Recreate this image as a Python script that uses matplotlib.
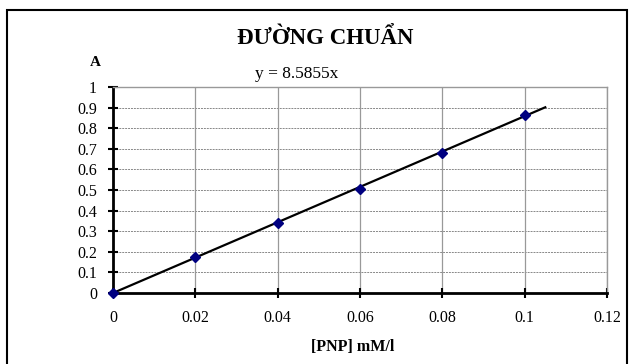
import matplotlib
matplotlib.use("Agg")
import matplotlib.pyplot as plt
import matplotlib.patches as mpatches
import numpy as np

#%% data
conc = [0, 0.02, 0.04, 0.06, 0.08, 0.1]
absorb = [0, 0.175, 0.34, 0.505, 0.68, 0.865]
slope = 8.5855
fit_x = [0, 0.105]
x_ticks = [0, 0.02, 0.04, 0.06, 0.08, 0.1, 0.12]
x_labels = ['0', '0.02', '0.04', '0.06', '0.08', '0.1', '0.12']
y_ticks = [0, 0.1, 0.2, 0.3, 0.4, 0.5, 0.6, 0.7, 0.8, 0.9, 1]
y_labels = ['0', '0.1', '0.2', '0.3', '0.4', '0.5', '0.6', '0.7', '0.8', '0.9', '1']

plt.rcParams['font.family'] = ['Liberation Serif', 'DejaVu Serif']

fig = plt.figure(figsize=(6.3, 3.64), dpi=100)
ax = fig.add_axes([113/630, 1-293/364, (607-113)/630, (293-87)/364])

# outer frame (bottom edge runs off the picture)
fig.patches.append(mpatches.Rectangle((7/630, -0.05), (627-7)/630, 1.05 - 10/364,
                                      transform=fig.transFigure, fill=False,
                                      edgecolor='black', linewidth=1.5))

ax.set_xlim(0, 0.12)
ax.set_ylim(0, 1)

for yv in y_ticks[1:]:
    ax.axhline(yv, color='#888888', linestyle=(0, (2, 1)), linewidth=0.7, zorder=1)
for xv in x_ticks[1:]:
    ax.axvline(xv, color='#999999', linestyle='-', linewidth=0.9, zorder=1)

fx = np.array(fit_x)
ax.plot(fx, slope*fx, color='black', linewidth=1.6, zorder=3)
ax.plot(conc, absorb, linestyle='none', marker='D', markersize=5.5,
        color='#000080', zorder=4, clip_on=False)

ax.set_xticks(x_ticks)
ax.set_xticklabels(x_labels)
ax.set_yticks(y_ticks)
ax.set_yticklabels(y_labels)
ax.tick_params(axis='x', direction='inout', length=7, width=1.5, pad=9, labelsize=11.5)
ax.tick_params(axis='y', direction='inout', length=7, width=1.5, pad=8, labelsize=11.5)

for s in ['top', 'right']:
    ax.spines[s].set_color('#999999')
    ax.spines[s].set_linewidth(1.0)
for s in ['left', 'bottom']:
    ax.spines[s].set_color('black')
    ax.spines[s].set_linewidth(2.0)

fig.text(325/630, 1-39/364, 'ĐƯỜNG CHUẨN', ha='center', va='center',
         fontsize=16.5, fontweight='bold')
fig.text(95/630, 1-62/364, 'A', ha='center', va='center',
         fontsize=11, fontweight='bold')
fig.text(297/630, 1-74/364, 'y = 8.5855x', ha='center', va='center', fontsize=12.5)
fig.text(353/630, 1-347/364, '[PNP] mM/l', ha='center', va='center',
         fontsize=11.5, fontweight='bold')

fig.savefig('out.png', dpi=100)
